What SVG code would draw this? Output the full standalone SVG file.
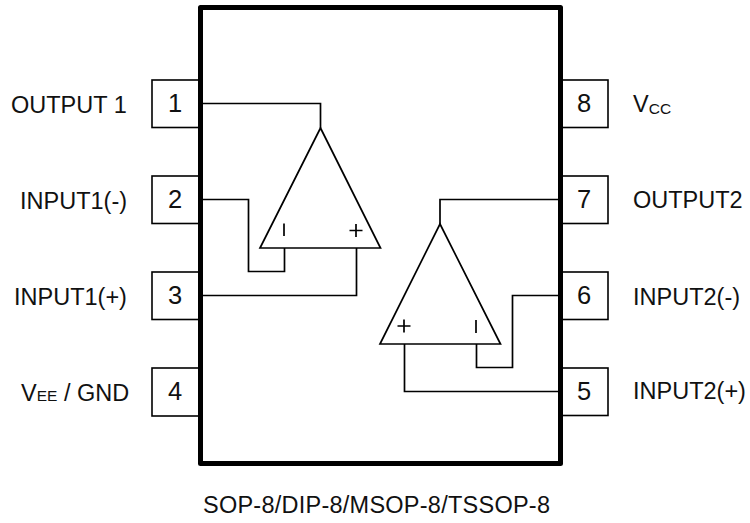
<svg xmlns="http://www.w3.org/2000/svg" width="750" height="523" viewBox="0 0 750 523">
<style>
text{font-family:"Liberation Sans",Arial,sans-serif;fill:#111}
.l{font-size:23.5px}
.n{font-size:25.500px;text-anchor:middle}
.s{font-size:15.500px}
.w{fill:none;stroke:#000;stroke-width:1.7}
.p{fill:#fff;stroke:#000;stroke-width:1.6}
.b{fill:#fff;stroke:#000;stroke-width:5;stroke-linejoin:round}
</style>
<rect width="750" height="523" fill="#fff"/>
<g id="pin1"><rect class="p" x="152" y="80" width="48" height="47.500"/><text class="n" x="175" y="111.500">1</text><text class="l" x="11" y="113">OUTPUT 1</text></g>
<g id="pin2"><rect class="p" x="152" y="176" width="48" height="47.500"/><text class="n" x="175" y="207.500">2</text><text class="l" x="20" y="209">INPUT1(-)</text></g>
<g id="pin3"><rect class="p" x="152" y="272" width="48" height="47.500"/><text class="n" x="175" y="303.500">3</text><text class="l" x="14" y="305">INPUT1(+)</text></g>
<g id="pin4"><rect class="p" x="152" y="368" width="48" height="48"/><text class="n" x="175" y="399.500">4</text><text class="l" x="21" y="401">V<tspan class="s">EE</tspan> / GND</text></g>
<g id="pin8"><rect class="p" x="560" y="80" width="48" height="47.500"/><text class="n" x="584" y="111.500">8</text><text class="l" x="633" y="112">V<tspan class="s" dy="2">CC</tspan></text></g>
<g id="pin7"><rect class="p" x="560" y="176" width="48" height="47.500"/><text class="n" x="584" y="207.500">7</text><text class="l" x="633" y="208">OUTPUT2</text></g>
<g id="pin6"><rect class="p" x="560" y="272" width="48" height="47.500"/><text class="n" x="584" y="303.500">6</text><text class="l" x="633" y="305">INPUT2(-)</text></g>
<g id="pin5"><rect class="p" x="560" y="368" width="48" height="47.500"/><text class="n" x="584" y="399.500">5</text><text class="l" x="633" y="399">INPUT2(+)</text></g>
<g id="body"><rect class="b" x="200.500" y="7.500" width="360" height="456"/></g>
<g id="connectors">
<path class="w" d="M203 103.500H320.500V128"/>
<path class="w" d="M203 199.500H248.500V271.500H284.500V248"/>
<path class="w" d="M203 295.500H356.500V248"/>
<path class="w" d="M558 199.500H440V224"/>
<path class="w" d="M558 295.500H512.500V367.500H476.500V344"/>
<path class="w" d="M558 391.500H404.500V344"/>
</g>
<g id="opamp1"><path class="w" d="M320.500 128L380.500 248H260Z"/><path class="w" d="M284 223.500V236M349.500 230.500H362.500M356 224V237"/></g>
<g id="opamp2"><path class="w" d="M440 224L500.500 344H380Z"/><path class="w" d="M476 320V333M397.500 326H410.500M404 319.500V332.500"/></g>
<text id="caption" class="l" x="203" y="513" textLength="347">SOP-8/DIP-8/MSOP-8/TSSOP-8</text>
</svg>
